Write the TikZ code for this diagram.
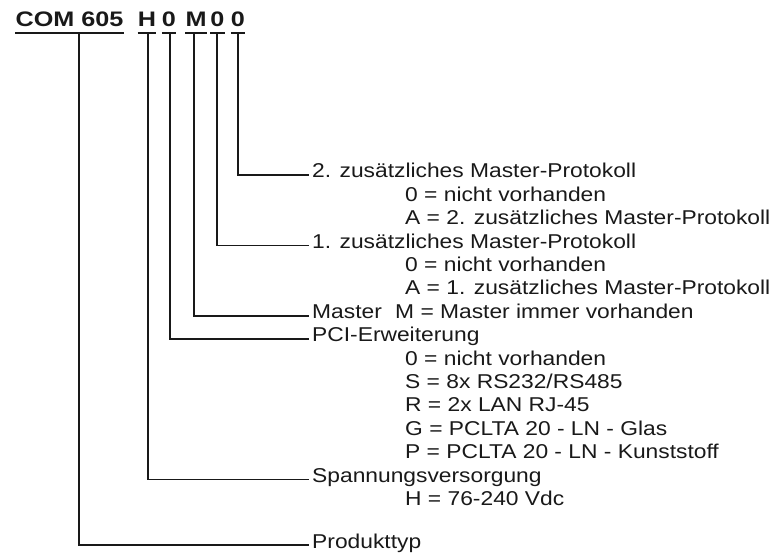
\documentclass[tikz,border=0pt]{standalone}
\usepackage{fontspec}
\setmainfont[FakeStretch=1.14]{Liberation Sans}
\newfontfamily\codefont[FakeStretch=1.2]{Liberation Sans}
\usepackage{tikz}
\usetikzlibrary{positioning}
\definecolor{inkgray}{RGB}{25,25,25}

\begin{document}
\begin{tikzpicture}[
        x=1pt, y=-1pt,
        code/.style={inner sep=0pt, anchor=base, text=inkgray,
                     font=\codefont\fontsize{21}{25}\selectfont\bfseries},
        lbl/.style={inner sep=3pt, anchor=base west, text=inkgray,
                    font=\fontsize{20}{24}\selectfont},
        opt/.style={inner sep=0pt, anchor=base west, text=inkgray,
                    font=\fontsize{20}{24}\selectfont},
        conn/.style={draw=inkgray, line width=1.8pt},
        uline/.style={draw=inkgray, line width=2.2pt},
      ]
      \useasboundingbox (0,0) rectangle (772,553);

      % type code
      \node[code] (com) at (69.5,27) {COM 605};
      \node[code] (pH)  at (147,27)   {H};
      \node[code] (p0a) at (169,27)   {0};
      \node[code] (pM)  at (196,27)   {M};
      \node[code] (p0b) at (217.5,27) {0};
      \node[code] (p0c) at (238,27)   {0};
      \foreach \n in {com,pH,p0a,pM,p0b,p0c}
        \draw[uline] ([yshift=-6pt]\n.base west) -- ([yshift=-6pt]\n.base east);

      \coordinate (tcom) at (79,33);
      \coordinate (tH)   at (148,33);
      \coordinate (t0a)  at (170,33);
      \coordinate (tM)   at (194,33);
      \coordinate (t0b)  at (217,33);
      \coordinate (t0c)  at (238,33);

      % labels
      \node[lbl] (zus2) at (309,178) {2. zusätzliches Master-Protokoll};
      \node[opt] at (405,201.4) {0 = nicht vorhanden};
      \node[opt] at (405,224.8) {A = 2. zusätzliches Master-Protokoll};
      \node[lbl] (zus1) at (309,248.2) {1. zusätzliches Master-Protokoll};
      \node[opt] at (405,271.6) {0 = nicht vorhanden};
      \node[opt] at (405,295) {A = 1. zusätzliches Master-Protokoll};
      \node[lbl] (master) at (309,318.4) {Master};
      \node[opt] at (395,318.4) {M = Master immer vorhanden};
      \node[lbl] (pci) at (309,341.8) {PCI-Erweiterung};
      \node[opt] at (405,365.2) {0 = nicht vorhanden};
      \node[opt] at (405,388.6) {S = 8x RS232/RS485};
      \node[opt] at (405,412) {R = 2x LAN RJ-45};
      \node[opt] at (405,435.4) {G = PCLTA 20 - LN - Glas};
      \node[opt] at (405,458.8) {P = PCLTA 20 - LN - Kunststoff};
      \node[lbl] (spann) at (309,482.2) {Spannungsversorgung};
      \node[opt] at (405,505.6) {H = 76-240 Vdc};
      \node[lbl] (prod) at (309,548) {Produkttyp};

      % connectors
      \draw[conn] (t0c) |- (zus2.mid west);
      \draw[conn] (t0b) |- (zus1.mid west);
      \draw[conn] (tM) |- (master.mid west);
      \draw[conn] (t0a) |- (pci.mid west);
      \draw[conn] (tH) |- (spann.mid west);
      \draw[conn] (tcom) |- (prod.mid west);
    \end{tikzpicture}
\end{document}
